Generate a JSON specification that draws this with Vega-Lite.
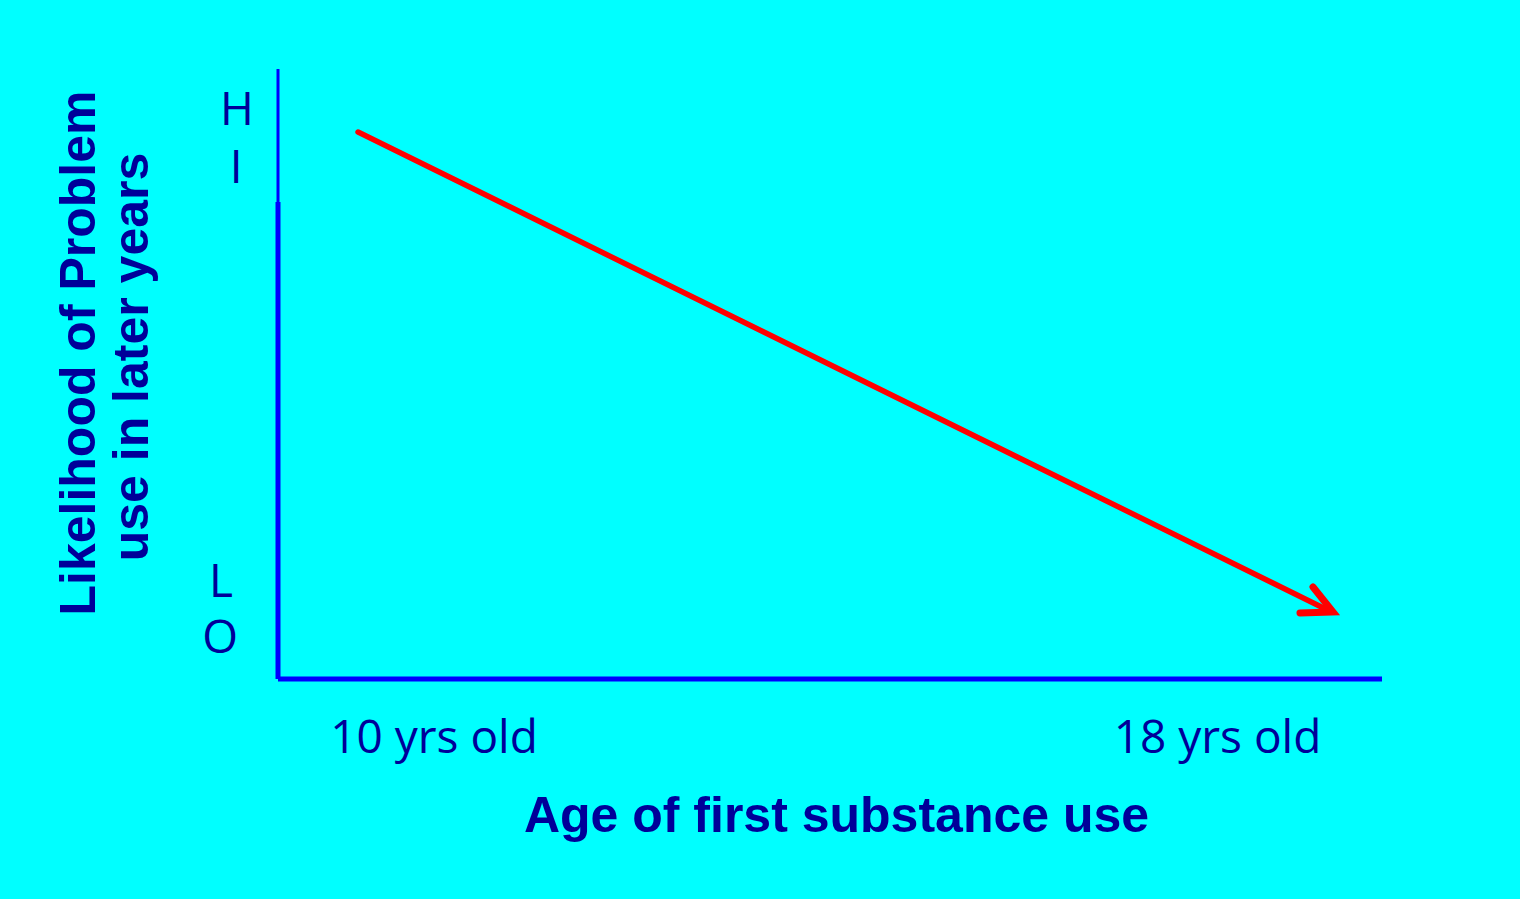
{
  "$schema": "https://vega.github.io/schema/vega-lite/v6.json",
  "width": 1104,
  "height": 610,
  "autosize": {"type": "none"},
  "padding": {"left": 278, "top": 69, "right": 138, "bottom": 220},
  "background": "#00FFFF",
  "config": {"view": {"stroke": null}},
  "datasets": {
    "axes": [
      {"part": "y-thin", "x": 0, "x2": 0, "y": 78.2, "y2": 100, "w": 3},
      {"part": "y-thick", "x": 0, "x2": 0, "y": 0, "y2": 78.2, "w": 5},
      {"part": "x-axis", "x": 0, "x2": 100, "y": 0, "y2": 0, "w": 5}
    ],
    "arrow": [
      {"part": "shaft", "seq": 1, "x": 7.25, "y": 89.67, "w": 5.5},
      {"part": "shaft", "seq": 2, "x": 95.2, "y": 11.2, "w": 5.5},
      {"part": "head", "seq": 1, "x": 93.75, "y": 15.08, "w": 7},
      {"part": "head", "seq": 2, "x": 95.56, "y": 10.98, "w": 7},
      {"part": "head", "seq": 3, "x": 92.57, "y": 10.82, "w": 7}
    ],
    "ticks": [
      {"label": "H", "x": -3.71, "y": 90.82},
      {"label": "I", "x": -3.8, "y": 81.31},
      {"label": "L", "x": -5.16, "y": 13.44},
      {"label": "O", "x": -5.25, "y": 4.26},
      {"label": "10 yrs old", "x": 14.13, "y": -12.13},
      {"label": "18 yrs old", "x": 85.1, "y": -12.13}
    ],
    "xtitle": [
      {"label": "Age of first substance use", "x": 50.59, "y": -25.08}
    ],
    "ytitle": [
      {"label": "Likelihood of Problem", "x": -16.58, "y": 53.44},
      {"label": "use in later years", "x": -11.78, "y": 52.79}
    ]
  },
  "layer": [
    {
      "data": {"name": "axes"},
      "mark": {"type": "rule", "color": "#0000FF", "strokeCap": "butt"},
      "encoding": {
        "x": {"field": "x", "type": "quantitative", "scale": {"domain": [0, 100], "nice": false, "zero": false}, "axis": null},
        "x2": {"field": "x2"},
        "y": {"field": "y", "type": "quantitative", "scale": {"domain": [0, 100], "nice": false, "zero": false}, "axis": null},
        "y2": {"field": "y2"},
        "strokeWidth": {"field": "w", "type": "quantitative", "scale": null}
      }
    },
    {
      "data": {"name": "arrow"},
      "mark": {"type": "line", "color": "#FF0000", "strokeCap": "round", "strokeJoin": "miter"},
      "encoding": {
        "x": {"field": "x", "type": "quantitative"},
        "y": {"field": "y", "type": "quantitative"},
        "detail": {"field": "part"},
        "order": {"field": "seq", "type": "quantitative"},
        "strokeWidth": {"field": "w", "type": "quantitative", "scale": null}
      }
    },
    {
      "data": {"name": "ticks"},
      "mark": {"type": "text", "font": "Open Sans", "fontSize": 46, "color": "#000099", "align": "center", "baseline": "alphabetic"},
      "encoding": {
        "x": {"field": "x", "type": "quantitative"},
        "y": {"field": "y", "type": "quantitative"},
        "text": {"field": "label"}
      }
    },
    {
      "data": {"name": "xtitle"},
      "mark": {"type": "text", "font": "Liberation Sans", "fontSize": 50, "fontWeight": "bold", "color": "#000099", "align": "center", "baseline": "alphabetic"},
      "encoding": {
        "x": {"field": "x", "type": "quantitative"},
        "y": {"field": "y", "type": "quantitative"},
        "text": {"field": "label"}
      }
    },
    {
      "data": {"name": "ytitle"},
      "mark": {"type": "text", "font": "Liberation Sans", "fontSize": 50, "fontWeight": "bold", "color": "#000099", "align": "center", "baseline": "alphabetic", "angle": 270},
      "encoding": {
        "x": {"field": "x", "type": "quantitative"},
        "y": {"field": "y", "type": "quantitative"},
        "text": {"field": "label"}
      }
    }
  ]
}
